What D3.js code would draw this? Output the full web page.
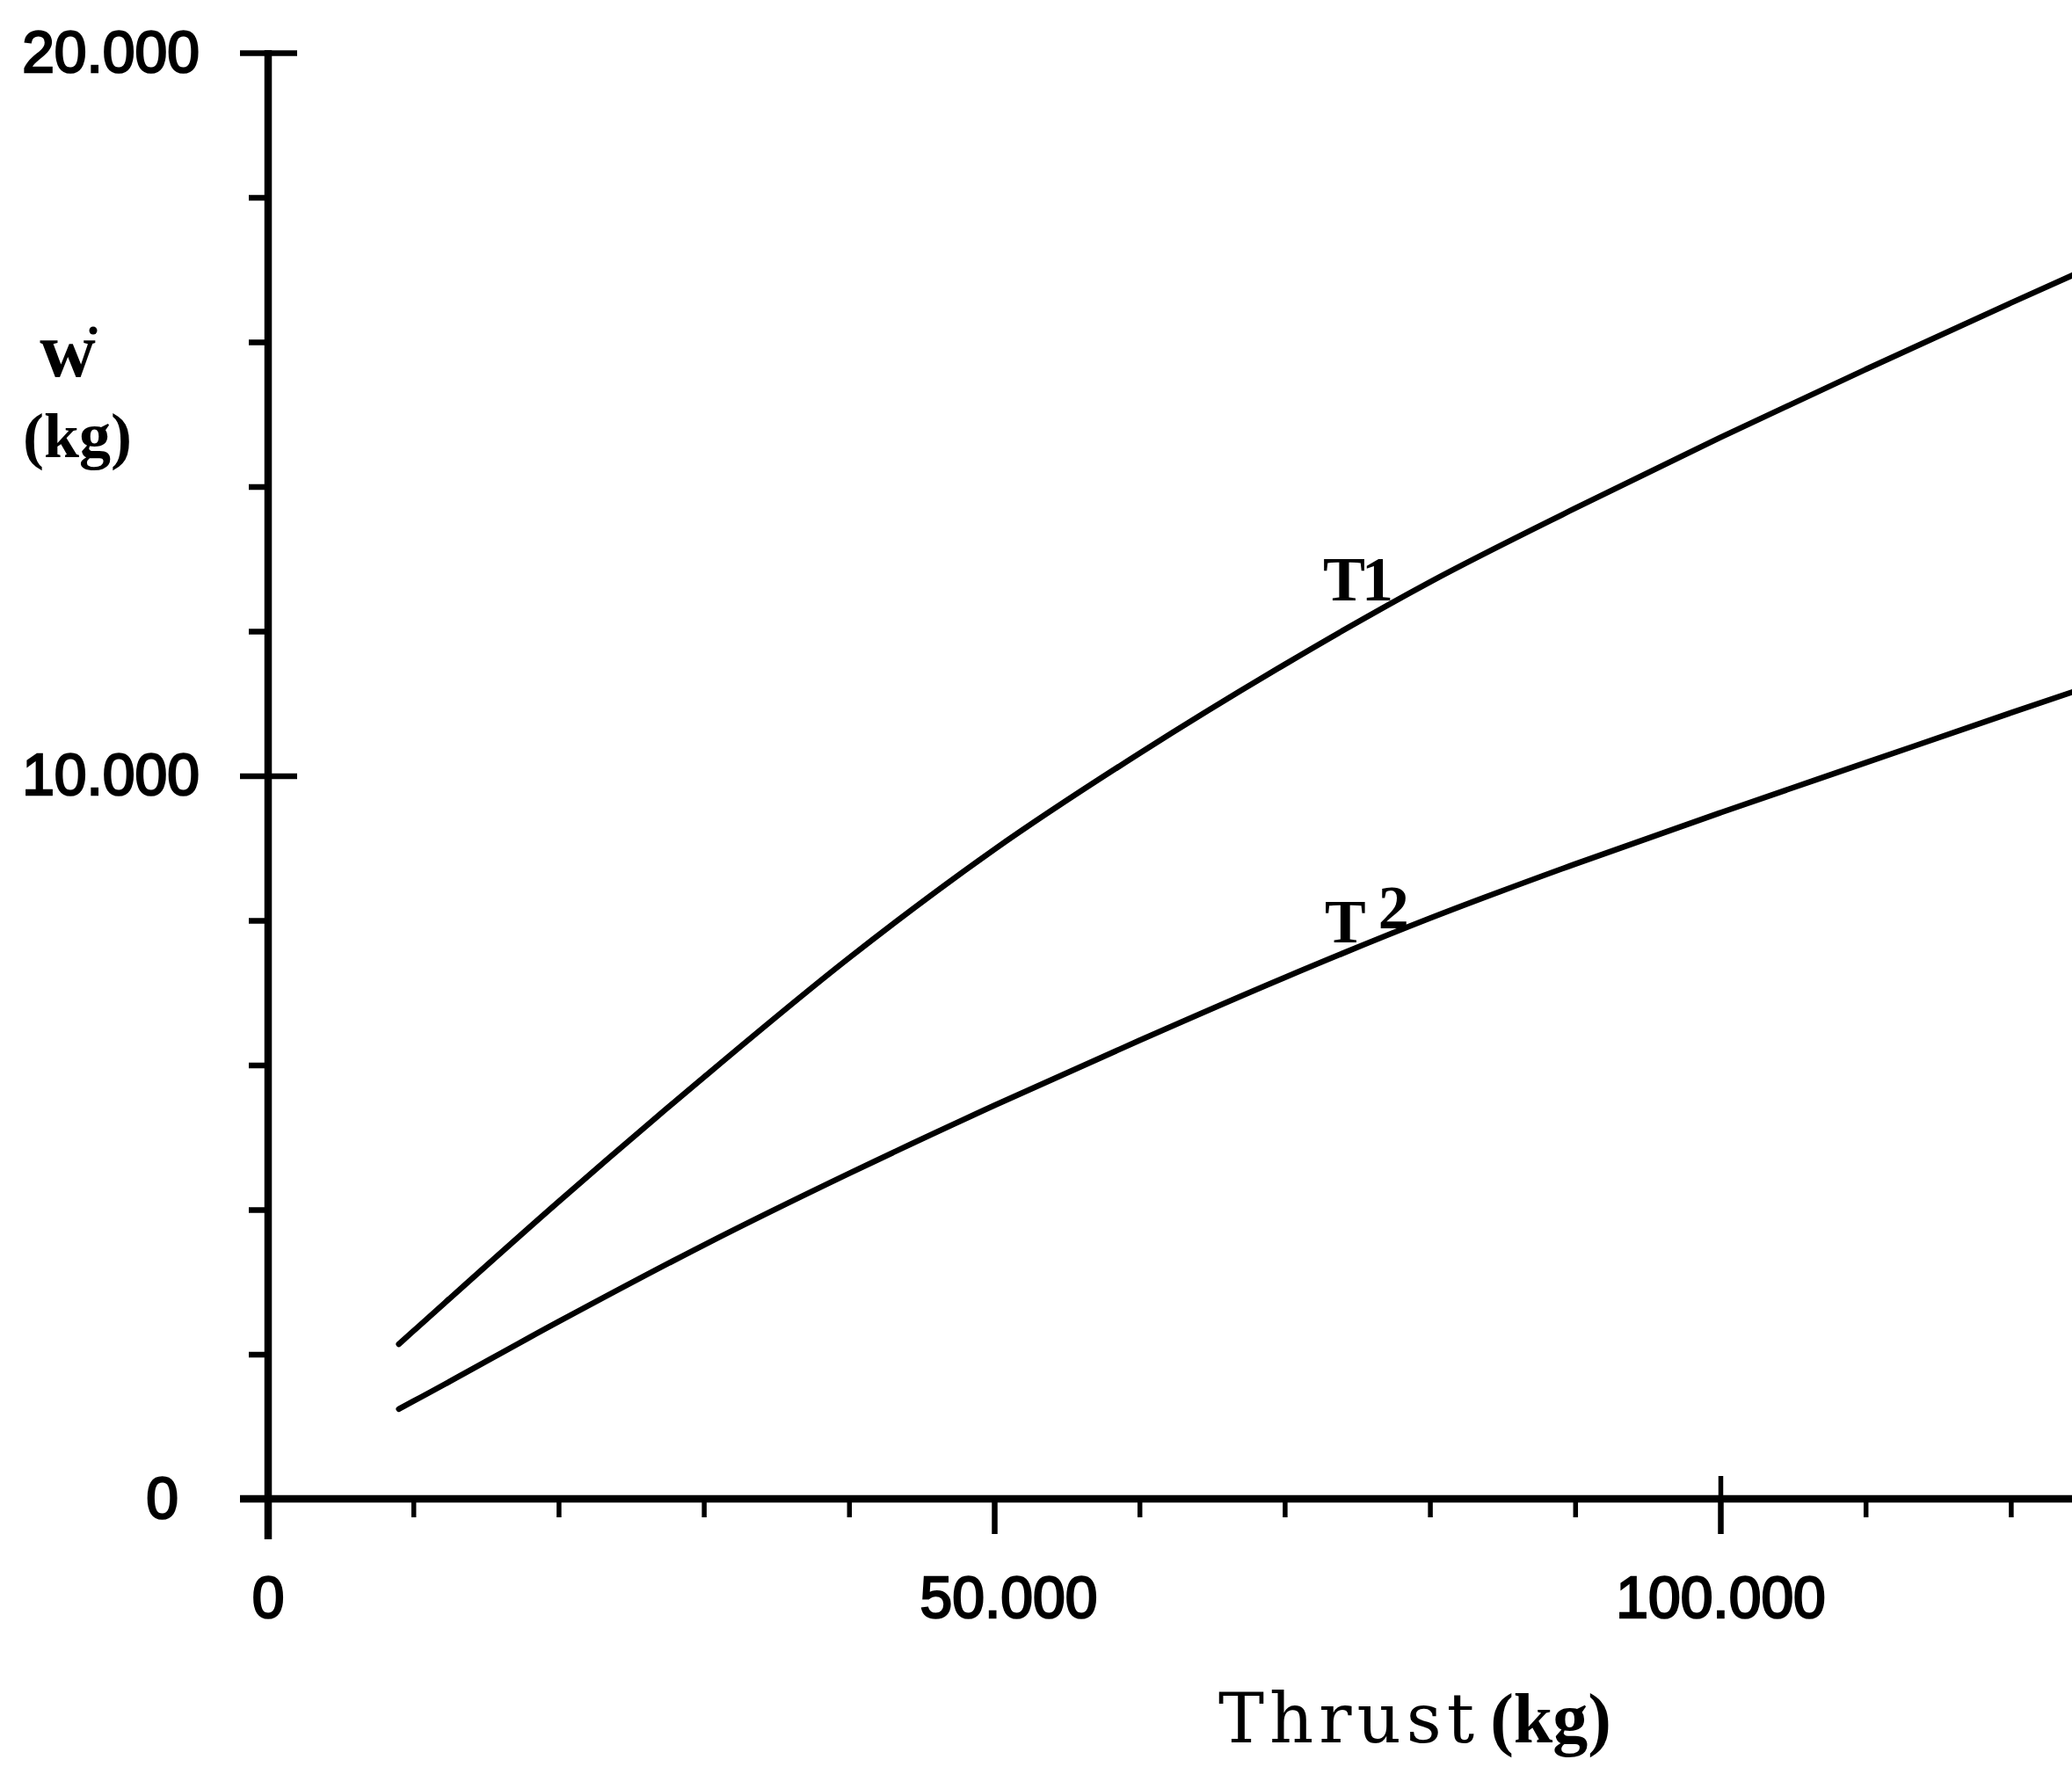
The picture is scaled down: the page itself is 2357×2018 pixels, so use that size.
<!DOCTYPE html>
<html>
<head>
<meta charset="utf-8">
<script src="https://cdn.jsdelivr.net/npm/d3@7"></script>
<style>
  html, body { margin: 0; padding: 0; background: #fff; }
  svg { display: block; }
</style>
</head>
<body>
<script>
// ---- data ----
const thrust = [9000, 10000, 20000, 30000, 40000, 50000, 60000, 70000, 80000, 90000, 100000, 110000, 120000, 125000];
const seriesT1 = [2140, 2320, 4110, 5830, 7480, 8980, 10310, 11540, 12680, 13700, 14680, 15620, 16540, 16990];
const seriesT2 = [1243, 1350, 2450, 3510, 4500, 5440, 6340, 7210, 8030, 8780, 9490, 10180, 10870, 11210];
const seriesNames = ["T1", "T2"];
const xMajorTicks = [0, 50000, 100000];
const xMajorLabels = ["0", "50.000", "100.000"];
const xMinorTicks = [10000, 20000, 30000, 40000, 60000, 70000, 80000, 90000, 110000, 120000];
const yMajorTicks = [0, 10000, 20000];
const yMajorLabels = ["0", "10.000", "20.000"];
const yMinorTicks = [2000, 4000, 6000, 8000, 12000, 14000, 16000, 18000];
const xTitle = "Thrust";
const xUnit = "(kg)";
const yTitle = "w";
const yUnit = "(kg)";

const W = 2357, H = 2018;
const x0 = 305, y0 = 1705;
const x = d3.scaleLinear().domain([0, 125000]).range([x0, x0 + 125000 * 0.01652]);
const y = d3.scaleLinear().domain([0, 20000]).range([y0, 60]);

const svg = d3.select("body").append("svg").attr("width", W).attr("height", H);
const axisW = 8.5;
const tickFont = "'Liberation Sans', Arial, sans-serif";

// ---- X axis ----
const gx = svg.append("g").attr("transform", `translate(0,${y0})`);
gx.append("line").attr("x1", 273).attr("x2", W).attr("y1", 0).attr("y2", 0)
  .attr("stroke", "#000").attr("stroke-width", axisW);
gx.append("g").call(d3.axisBottom(x).tickValues(xMinorTicks).tickSize(21).tickFormat(""));
const gxMajor = gx.append("g").call(d3.axisBottom(x).tickValues(xMajorTicks.slice(1)).tickSize(40)
  .tickPadding(48).tickFormat((d) => xMajorLabels[xMajorTicks.indexOf(d)]));
gx.append("text").attr("x", x(0)).attr("y", 88).attr("dy", "0.71em")
  .attr("text-anchor", "middle").text(xMajorLabels[0]);
gx.append("g").call(d3.axisTop(x).tickValues([100000]).tickSize(26).tickFormat(""));
gx.selectAll(".domain").remove();
gx.selectAll(".tick line").attr("stroke", "#000").attr("stroke-width", 5.5);
gxMajor.selectAll(".tick line").attr("stroke-width", 6.5);
gxMajor.selectAll(".tick text").filter(d => d === 50000).attr("dx", 16);

// ---- Y axis ----
const gy = svg.append("g").attr("transform", `translate(${x0},0)`);
gy.append("line").attr("x1", 0).attr("x2", 0).attr("y1", y(20000) - 3).attr("y2", y0 + 46)
  .attr("stroke", "#000").attr("stroke-width", axisW);
gy.append("g").call(d3.axisLeft(y).tickValues(yMinorTicks).tickSize(22).tickFormat(""));
const gyMajor = gy.append("g").call(d3.axisLeft(y).tickValues(yMajorTicks).tickSize(32)
  .tickPadding(46).tickFormat((d) => yMajorLabels[yMajorTicks.indexOf(d)]));
gy.append("g").call(d3.axisRight(y).tickValues([10000, 20000]).tickSize(33).tickFormat(""));
gy.selectAll(".domain").remove();
gy.selectAll(".tick line").attr("stroke", "#000").attr("stroke-width", 6.5);
gyMajor.selectAll(".tick text").filter(d => d === 0).attr("dx", -24);

svg.selectAll("g text")
  .attr("font-family", tickFont).attr("font-size", 66).attr("fill", "#000")
  .attr("stroke", "#000").attr("stroke-width", 2.4);

// ---- curves ----
const line = d3.line().x(d => x(d[0])).y(d => y(d[1])).curve(d3.curveMonotoneX);
svg.append("clipPath").attr("id", "clip").append("rect")
  .attr("x", 0).attr("y", 0).attr("width", W).attr("height", H);
[seriesT1, seriesT2].forEach(vals => {
  svg.append("path")
    .datum(thrust.map((t, i) => [t, vals[i]]))
    .attr("d", line).attr("fill", "none").attr("stroke", "#000")
    .attr("stroke-width", 6.5).attr("stroke-linecap", "round")
    .attr("clip-path", "url(#clip)");
});

// ---- curve labels ----
const serif = "'Liberation Serif', 'Times New Roman', serif";
svg.append("text").attr("x", 1505).attr("y", 683).attr("font-family", serif)
  .attr("font-weight", "bold").attr("font-size", 72).attr("letter-spacing", -4).text(seriesNames[0]);
const t2 = svg.append("text").attr("x", 1507).attr("y", 1072).attr("font-family", serif)
  .attr("font-weight", "bold").attr("font-size", 70);
t2.append("tspan").text(seriesNames[1].charAt(0));
t2.append("tspan").attr("dx", 14).attr("dy", -16).text(seriesNames[1].slice(1));

// ---- axis titles ----
svg.append("text").attr("x", 77).attr("y", 428).attr("text-anchor", "middle")
  .attr("font-family", serif).attr("font-weight", "bold").attr("font-size", 88).text(yTitle);
svg.append("circle").attr("cx", 106).attr("cy", 376).attr("r", 4.5).attr("fill", "#000");
svg.append("text").attr("x", 88).attr("y", 520).attr("text-anchor", "middle")
  .attr("font-family", serif).attr("font-weight", "bold").attr("font-size", 72).text(yUnit);

const xt = svg.append("text").attr("x", 1386).attr("y", 1982)
  .attr("font-family", "'DejaVu Serif', serif").attr("font-size", 78);
xt.append("tspan").attr("letter-spacing", 6).text(xTitle);
xt.append("tspan").attr("dx", 12).attr("font-family", serif).attr("font-weight", "bold")
  .attr("font-size", 80).attr("letter-spacing", 0).text(xUnit);
</script>
</body>
</html>
